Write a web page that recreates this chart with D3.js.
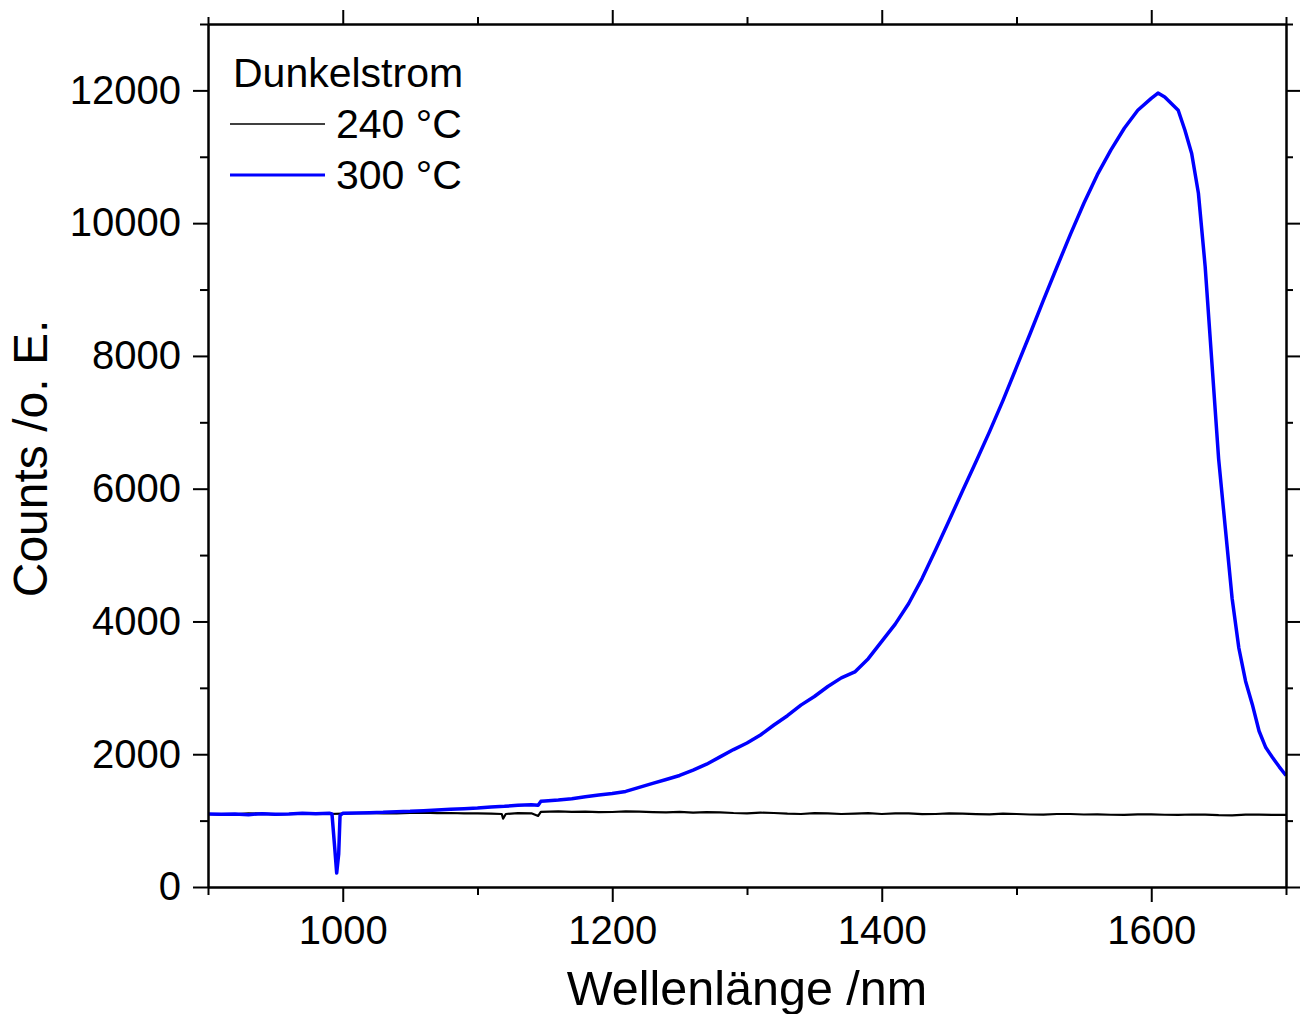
<!DOCTYPE html>
<html><head><meta charset="utf-8">
<script src="https://cdn.jsdelivr.net/npm/d3@7"></script>
<style>
html,body{margin:0;padding:0;background:#fff;}
svg text{font-family:"Liberation Sans",Arial,sans-serif;fill:#000;}
</style></head>
<body>
<svg id="chart" width="1302" height="1014"></svg>
<script>
// ---- data ----
const xMajorTicks = [1000, 1200, 1400, 1600];
const xMinorTicks = [900, 1100, 1300, 1500, 1700];
const yMajorTicks = [0, 2000, 4000, 6000, 8000, 10000, 12000];
const yMinorTicks = [1000, 3000, 5000, 7000, 9000, 11000, 13000];

const seriesNames = ["240 °C", "300 °C"];
const legendTitle = "Dunkelstrom";
const xTitle = "Wellenlänge /nm";
const yTitle = "Counts /o. E.";

const wl240 = [900,910,920,930,940,950,960,970,980,990,1000,1010,1020,1030,1040,1050,1060,1070,1080,1090,1100,1110,1118,1119,1121,1130,1140,1145,1147,1160,1170,1180,1190,1200,1210,1220,1230,1240,1250,1260,1270,1280,1290,1300,1310,1320,1330,1340,1350,1360,1370,1380,1390,1400,1410,1420,1430,1440,1450,1460,1470,1480,1490,1500,1510,1520,1530,1540,1550,1560,1570,1580,1590,1600,1610,1620,1630,1640,1650,1660,1670,1680,1690,1700];
const cnt240 = [1100,1090,1095,1110,1105,1095,1100,1112,1108,1100,1105,1112,1115,1108,1110,1118,1120,1112,1115,1108,1110,1105,1100,1030,1100,1112,1110,1070,1132,1140,1132,1135,1128,1130,1138,1135,1128,1125,1132,1120,1128,1125,1115,1110,1120,1115,1105,1100,1112,1110,1100,1105,1112,1100,1108,1110,1098,1100,1108,1105,1098,1095,1105,1100,1092,1090,1100,1100,1092,1095,1088,1085,1095,1095,1088,1085,1092,1090,1082,1080,1090,1090,1085,1085];

const wl300 = [900,910,920,930,940,950,960,970,980,990,992,994,995.5,997,998,1000,1010,1020,1030,1040,1050,1060,1070,1080,1090,1100,1110,1120,1130,1140,1145,1147,1150,1160,1170,1180,1190,1200,1210,1220,1230,1240,1250,1260,1270,1280,1290,1300,1310,1320,1330,1340,1350,1360,1370,1380,1390,1400,1410,1420,1430,1440,1450,1460,1470,1480,1490,1500,1510,1520,1530,1540,1550,1560,1570,1580,1590,1600,1605,1610,1620,1625,1630,1635,1640,1645,1650,1655,1660,1665,1670,1675,1680,1685,1690,1695,1700];
const cnt300 = [1100,1095,1100,1090,1105,1095,1100,1110,1105,1110,1100,600,210,500,1080,1110,1115,1120,1125,1135,1140,1150,1160,1170,1180,1190,1205,1215,1230,1240,1230,1290,1295,1310,1330,1360,1385,1410,1440,1500,1560,1620,1680,1760,1850,1960,2070,2170,2290,2440,2580,2740,2870,3020,3150,3240,3440,3700,3960,4270,4650,5080,5520,5970,6410,6860,7330,7830,8330,8840,9340,9830,10300,10730,11100,11430,11700,11880,11960,11900,11700,11400,11050,10450,9350,7900,6450,5400,4350,3600,3100,2750,2350,2100,1950,1810,1680];

// ---- layout ----
const L = 208, R = 1286, T = 24, B = 887;
const svg = d3.select("#chart");
const x = d3.scaleLinear().domain([900, 1700]).range([L, R]);
const y = d3.scaleLinear().domain([0, 13000]).range([B, T]);

svg.append("defs").append("clipPath").attr("id", "clip")
  .append("rect").attr("x", L).attr("y", T).attr("width", R - L).attr("height", B - T);

const line = d3.line().x(d => x(d[0])).y(d => y(d[1]));
const d240 = wl240.map((w, i) => [w, cnt240[i]]);
const d300 = wl300.map((w, i) => [w, cnt300[i]]);

const plot = svg.append("g").attr("clip-path", "url(#clip)");
plot.append("path").datum(d240).attr("d", line)
  .attr("fill", "none").attr("stroke", "#000").attr("stroke-width", 2.2).attr("stroke-linejoin", "round");
plot.append("path").datum(d300).attr("d", line)
  .attr("fill", "none").attr("stroke", "#0000ff").attr("stroke-width", 3.5).attr("stroke-linejoin", "round");

// ---- axes ----
function styleAxis(g) {
  g.selectAll(".domain").attr("stroke", "#000").attr("stroke-width", 2);
  g.selectAll(".tick line").attr("stroke", "#000").attr("stroke-width", 2);
  g.selectAll(".tick text").attr("font-size", 40).attr("font-family", "'Liberation Sans', Arial, sans-serif").attr("fill", "#000");
}
// bottom
svg.append("g").attr("transform", `translate(0,${B})`)
  .call(d3.axisBottom(x).tickValues(xMajorTicks).tickSize(15).tickSizeOuter(0).tickPadding(14).tickFormat(d3.format("d")))
  .call(styleAxis);
svg.append("g").attr("transform", `translate(0,${B})`)
  .call(d3.axisBottom(x).tickValues(xMinorTicks).tickSize(8).tickSizeOuter(0).tickFormat(""))
  .call(styleAxis);
// top
svg.append("g").attr("transform", `translate(0,${T})`)
  .call(d3.axisTop(x).tickValues(xMajorTicks).tickSize(14).tickSizeOuter(0).tickFormat(""))
  .call(styleAxis);
svg.append("g").attr("transform", `translate(0,${T})`)
  .call(d3.axisTop(x).tickValues(xMinorTicks).tickSize(7).tickSizeOuter(0).tickFormat(""))
  .call(styleAxis);
// left
svg.append("g").attr("transform", `translate(${L},0)`)
  .call(d3.axisLeft(y).tickValues(yMajorTicks).tickSize(15).tickSizeOuter(0).tickPadding(12).tickFormat(d3.format("d")))
  .call(styleAxis);
svg.append("g").attr("transform", `translate(${L},0)`)
  .call(d3.axisLeft(y).tickValues(yMinorTicks).tickSize(8).tickSizeOuter(0).tickFormat(""))
  .call(styleAxis);
// right
svg.append("g").attr("transform", `translate(${R},0)`)
  .call(d3.axisRight(y).tickValues(yMajorTicks).tickSize(14).tickSizeOuter(0).tickFormat(""))
  .call(styleAxis);
svg.append("g").attr("transform", `translate(${R},0)`)
  .call(d3.axisRight(y).tickValues(yMinorTicks).tickSize(7).tickSizeOuter(0).tickFormat(""))
  .call(styleAxis);

// ---- titles ----
svg.append("text").attr("x", (L + R) / 2).attr("y", 1005).attr("text-anchor", "middle")
  .attr("font-size", 48.5).text(xTitle);
svg.append("text").attr("transform", `translate(47,${(T + B) / 2 + 3}) rotate(-90)`).attr("text-anchor", "middle")
  .attr("font-size", 48).text(yTitle);

// ---- legend ----
const lg = svg.append("g");
lg.append("text").attr("x", 233).attr("y", 87).attr("font-size", 41).text(legendTitle);
const legColors = ["#000", "#0000ff"];
const legWidths = [1.6, 3];
seriesNames.forEach((nm, i) => {
  const yy = 124 + i * 51;
  lg.append("line").attr("x1", 230).attr("x2", 325).attr("y1", yy).attr("y2", yy)
    .attr("stroke", legColors[i]).attr("stroke-width", legWidths[i]);
  lg.append("text").attr("x", 336).attr("y", yy + 14).attr("font-size", 41).text(nm);
});
</script>
</body></html>
